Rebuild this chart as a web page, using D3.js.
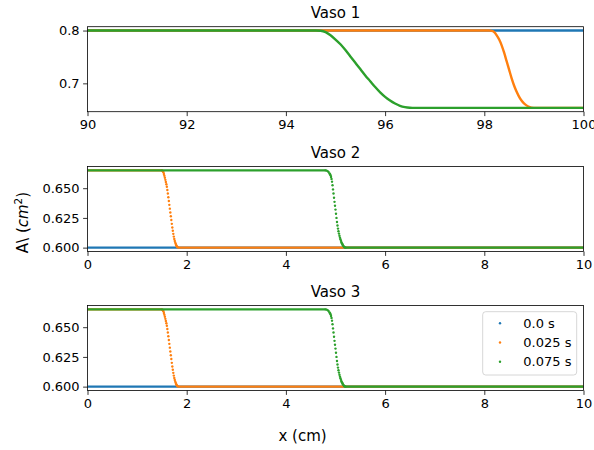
<!DOCTYPE html>
<html>
<head>
<meta charset="utf-8">
<script src="https://cdn.jsdelivr.net/npm/d3@7"></script>
<style>
	body { margin: 0; background: #fff; }
	svg text { font-family: "DejaVu Sans", sans-serif; fill: #000; }
</style>
</head>
<body>
<div id="graph"></div>
<script>
// legend labels and colours
var times = ["0.0 s", "0.025 s", "0.075 s"];
var colors = ["#1f77b4", "#ff7f0e", "#2ca02c"];

// Vaso 1 : [x, A]
var v1Blue = [[90, 0.8], [100, 0.8]];
var v1Orange = [[90, 0.8], [98.1, 0.8], [98.15, 0.7995], [98.2, 0.797], [98.25, 0.791], [98.3, 0.783],
	[98.35, 0.772], [98.4, 0.758], [98.45, 0.742], [98.5, 0.726], [98.55, 0.710], [98.6, 0.696],
	[98.65, 0.6845], [98.7, 0.675], [98.75, 0.6675], [98.8, 0.6622], [98.85, 0.6583], [98.9, 0.6555],
	[98.95, 0.6538], [99.0, 0.6536], [100, 0.6536]];
var v1Green = [[90, 0.8], [94.6, 0.8], [94.7, 0.7995], [94.8, 0.797], [94.9, 0.791], [95.0, 0.783],
	[95.1, 0.774], [95.2, 0.763], [95.3, 0.751], [95.4, 0.739], [95.5, 0.727], [95.6, 0.715],
	[95.7, 0.704], [95.8, 0.693], [95.9, 0.683], [96.0, 0.6745], [96.1, 0.6675], [96.2, 0.6618],
	[96.3, 0.6575], [96.4, 0.6550], [96.5, 0.6538], [96.55, 0.6536], [100, 0.6536]];

// Vaso 2 : flat parts [x0, x1, A] and the dots of the fronts [x, A]
var v2BlueFlat = [[0, 10, 0.6]];
var v2OrangeFlat = [[0, 1.5, 0.665], [1.82, 10, 0.6]];
var v2OrangeDots = [[1.50, 0.6650], [1.51, 0.6648], [1.52, 0.6643], [1.53, 0.6635], [1.54, 0.6620],
	[1.55, 0.6605], [1.56, 0.6588], [1.57, 0.6570], [1.58, 0.6552], [1.59, 0.6533], [1.60, 0.6512],
	[1.61, 0.6485], [1.62, 0.6455], [1.63, 0.6424], [1.64, 0.6392], [1.65, 0.6360], [1.66, 0.6328],
	[1.67, 0.6296], [1.68, 0.6264], [1.69, 0.6232], [1.70, 0.6200], [1.71, 0.6170], [1.72, 0.6142],
	[1.73, 0.6116], [1.74, 0.6093], [1.75, 0.6073], [1.76, 0.6056], [1.77, 0.6042], [1.78, 0.6030],
	[1.79, 0.6020], [1.80, 0.6012], [1.81, 0.6006], [1.82, 0.6002]];
var v2GreenFlat = [[0, 4.8, 0.665], [5.2, 10, 0.6]];
var v2GreenDots = [[4.80, 0.6650], [4.82, 0.6648], [4.84, 0.6644], [4.86, 0.6636], [4.88, 0.6625],
	[4.89, 0.6618], [4.90, 0.6608], [4.91, 0.6595], [4.92, 0.6578], [4.93, 0.6555], [4.94, 0.6525],
	[4.95, 0.6490], [4.96, 0.6455], [4.97, 0.6420], [4.98, 0.6385], [4.99, 0.6352], [5.00, 0.6320],
	[5.01, 0.6285], [5.02, 0.6250], [5.03, 0.6216], [5.04, 0.6186], [5.05, 0.6160], [5.06, 0.6138],
	[5.07, 0.6118], [5.08, 0.6100], [5.09, 0.6084], [5.10, 0.6070], [5.11, 0.6057], [5.12, 0.6046],
	[5.13, 0.6036], [5.14, 0.6028], [5.15, 0.6020], [5.16, 0.6013], [5.17, 0.6008], [5.18, 0.6004],
	[5.19, 0.6002], [5.20, 0.6000]];

// Vaso 3 looks the same as Vaso 2
var v3BlueFlat = v2BlueFlat;
var v3OrangeFlat = v2OrangeFlat;
var v3OrangeDots = v2OrangeDots;
var v3GreenFlat = v2GreenFlat;
var v3GreenDots = v2GreenDots;

var xTicks1 = [90, 92, 94, 96, 98, 100];
var xTicks23 = [0, 2, 4, 6, 8, 10];
var yTicks1 = [0.7, 0.8];
var yTicks23 = [0.600, 0.625, 0.650];

var w = 594, h = 450;
var left = 87.5, plotW = 496, plotH = 85;
var tops = [26.7, 166.5, 305.5];

var svg = d3.select("#graph")
	.append("svg")
	.attr("width", w)
	.attr("height", h);

var panels = [
	{title: "Vaso 1", xDom: [90, 100], yDom: [0.6463, 0.8073], xTicks: xTicks1, yTicks: yTicks1, fmt: ".1f",
		lines: [v1Blue, v1Orange, v1Green]},
	{title: "Vaso 2", xDom: [0, 10], yDom: [0.59675, 0.66825], xTicks: xTicks23, yTicks: yTicks23, fmt: ".3f",
		flats: [v2BlueFlat, v2OrangeFlat, v2GreenFlat], dots: [[], v2OrangeDots, v2GreenDots]},
	{title: "Vaso 3", xDom: [0, 10], yDom: [0.59675, 0.66825], xTicks: xTicks23, yTicks: yTicks23, fmt: ".3f",
		flats: [v3BlueFlat, v3OrangeFlat, v3GreenFlat], dots: [[], v3OrangeDots, v3GreenDots], legend: true}
];

panels.forEach(function (p, k) {
	var top = tops[k];
	var xScale = d3.scaleLinear().domain(p.xDom).range([left, left + plotW]);
	var yScale = d3.scaleLinear().domain(p.yDom).range([top + plotH, top]);

	var clipId = "clip" + k;
	svg.append("clipPath").attr("id", clipId)
		.append("rect")
		.attr("x", left).attr("y", top)
		.attr("width", plotW).attr("height", plotH);

	var g = svg.append("g").attr("clip-path", "url(#" + clipId + ")");

	if (p.lines) {
		var line = d3.line()
			.x(function (d) { return xScale(d[0]); })
			.y(function (d) { return yScale(d[1]); })
			.curve(d3.curveMonotoneX);
		p.lines.forEach(function (s, i) {
			g.append("path")
				.datum(s)
				.attr("d", line)
				.attr("fill", "none")
				.attr("stroke", colors[i])
				.attr("stroke-width", 2.4);
		});
	} else {
		for (var i = 0; i < 3; i++) {
			g.selectAll(null)
				.data(p.flats[i])
				.enter().append("line")
				.attr("x1", function (d) { return xScale(d[0]); })
				.attr("x2", function (d) { return xScale(d[1]); })
				.attr("y1", function (d) { return yScale(d[2]); })
				.attr("y2", function (d) { return yScale(d[2]); })
				.attr("stroke", colors[i])
				.attr("stroke-width", 2.4);
			g.selectAll(null)
				.data(p.dots[i])
				.enter().append("circle")
				.attr("cx", function (d) { return xScale(d[0]); })
				.attr("cy", function (d) { return yScale(d[1]); })
				.attr("r", 1.2)
				.attr("fill", colors[i]);
		}
	}

	// axes
	var xAxis = d3.axisBottom(xScale).tickValues(p.xTicks).tickSize(4.4).tickPadding(3.5).tickSizeOuter(0)
		.tickFormat(d3.format("d"));
	var yAxis = d3.axisLeft(yScale).tickValues(p.yTicks).tickSize(4.4).tickPadding(3.5).tickSizeOuter(0)
		.tickFormat(d3.format(p.fmt));

	var gx = svg.append("g")
		.attr("transform", "translate(0," + (top + plotH) + ")")
		.call(xAxis);
	var gy = svg.append("g")
		.attr("transform", "translate(" + left + ",0)")
		.call(yAxis);
	[gx, gy].forEach(function (a) {
		a.select(".domain").remove();
		a.selectAll(".tick line").attr("stroke", "#000").attr("stroke-width", 0.8);
		a.selectAll(".tick text").attr("font-size", "13px").attr("font-family", "DejaVu Sans").attr("fill", "#000");
	});

	svg.append("rect")
		.attr("x", left).attr("y", top)
		.attr("width", plotW).attr("height", plotH)
		.attr("fill", "none")
		.attr("stroke", "#000")
		.attr("stroke-width", 0.8);

	svg.append("text")
		.attr("x", left + plotW / 2)
		.attr("y", top - 8.3)
		.attr("text-anchor", "middle")
		.attr("font-size", "15px")
		.text(p.title);

	if (p.legend) {
		var lg = svg.append("g");
		lg.append("rect")
			.attr("x", 482.7).attr("y", 311.7)
			.attr("width", 94).attr("height", 63.3)
			.attr("rx", 3)
			.attr("fill", "#fff").attr("fill-opacity", 0.8)
			.attr("stroke", "#ccc").attr("stroke-width", 0.8);
		times.forEach(function (t, i) {
			var yy = 323.3 + i * 19.2;
			lg.append("circle")
				.attr("cx", 500).attr("cy", yy)
				.attr("r", 1.2)
				.attr("fill", colors[i]);
			lg.append("text")
				.attr("x", 523.3).attr("y", yy)
				.attr("dy", "0.35em")
				.attr("font-size", "13px")
				.text(t);
		});
	}
});

// axis names
svg.append("text")
	.attr("x", 302.5)
	.attr("y", 441)
	.attr("text-anchor", "middle")
	.attr("font-size", "15px")
	.text("x (cm)");

var yl = svg.append("text")
	.attr("transform", "translate(28,222.5) rotate(-90)")
	.attr("text-anchor", "middle")
	.attr("font-size", "15px");
yl.append("tspan").text("A\\ (");
yl.append("tspan").attr("font-style", "italic").text("cm");
yl.append("tspan").attr("font-size", "10.5px").attr("dy", "-0.55em").text("2");
yl.append("tspan").attr("dy", "0.38em").text(")");
</script>
</body>
</html>
